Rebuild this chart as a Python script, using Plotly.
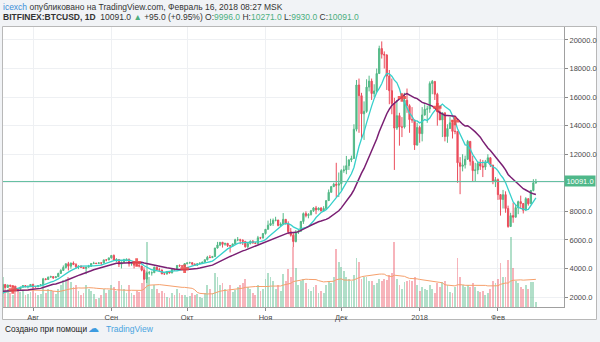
import numpy as np
import pandas as pd
import plotly.graph_objects as go

# ---------------- data (BITFINEX:BTCUSD, daily) ----------------
dates = pd.date_range("2017-07-01", "2018-02-16", freq="D")

opens = [
    2490,2430,2500,2570,2600,2610,2600,2500,2560,2510,2360,2330,2400,2360,2210,1980,1930,2230,2320,2270,2880,2670,2830,2760,2760,2570,2540,2690,2800,2720,2760,
    2880,2740,2710,2800,2860,3270,3230,3390,3430,3350,3420,3650,3860,4070,4330,4160,4380,4280,4120,4170,4080,4000,4090,4150,4340,4370,4350,4390,4380,4600,4590,
    4740,4910,4580,4630,4300,4420,4620,4650,4330,4340,4230,4220,4170,3880,3250,3690,3700,3700,4090,3910,3890,3620,3610,3790,3680,3930,3890,4210,4190,4160,
    4340,4390,4400,4310,4220,4330,4370,4440,4610,4780,4760,4830,5430,5640,5830,5690,5760,5600,5570,5720,6010,6010,5980,5900,5520,5740,5900,5780,5750,6150,6130,
    6450,6740,7030,7150,7370,7390,7010,7110,7440,7130,6570,6330,5880,6520,6600,7290,7840,7700,7780,8040,8240,8100,8230,8030,8200,8750,9330,9730,9900,9830,
    9930,10850,10900,11200,11600,11700,13750,16850,16100,14830,15000,16700,17120,16250,16430,17650,19400,19000,18950,17480,16450,15550,13830,14700,13900,13900,15780,15400,14420,14400,12640,
    13880,13440,14750,15150,15170,16950,17100,16200,14970,14400,14900,13240,13800,14200,13600,13600,11400,11150,11250,11650,12900,11500,10850,10900,11350,11170,11100,11450,11750,11240,10100,
    10220,9170,8830,9170,8200,6940,7700,7590,8260,8680,8550,8080,8890,8530,9460,9996,
]
highs = [
    2520,2520,2600,2650,2640,2630,2610,2570,2570,2530,2400,2420,2420,2380,2230,2060,2240,2380,2410,2900,2890,2870,2850,2790,2770,2620,2710,2840,2810,2780,2900,
    2930,2760,2820,2880,3340,3290,3430,3490,3440,3450,3700,3950,4210,4340,4460,4400,4490,4370,4190,4200,4100,4120,4250,4370,4470,4380,4420,4410,4620,4640,4760,
    4930,4980,4720,4640,4500,4680,4680,4680,4400,4360,4400,4370,4170,3930,3790,3820,3800,4120,4110,4050,3920,3760,3800,3800,3970,3990,4230,4280,4200,4370,
    4400,4470,4440,4350,4350,4420,4460,4620,4880,4930,4880,5440,5860,5850,5860,5780,5780,5600,5730,6080,6200,6080,6040,5910,5760,5970,5990,5860,6280,6210,6460,
    6750,7350,7480,7500,7620,7400,7230,7880,7440,7300,6830,6480,6690,6720,7330,7920,8000,7870,8100,8300,8380,8270,8290,8360,8780,9530,9780,10000,11400,10720,
    10950,11200,11880,11650,11900,14100,17200,17300,16300,15700,17250,17500,17300,16900,18000,19600,19900,19200,19000,17900,17300,15950,15800,14900,14600,16300,16600,15500,15300,14400,14200,
    14000,15300,15500,15400,17100,17200,17100,16300,15400,14900,14900,14100,14600,14400,14300,13600,11800,12000,11900,13000,12900,11900,11400,11500,11650,11600,11600,12000,11800,11250,10400,
    10300,9200,9500,9400,8400,7900,8600,8500,8750,9100,8560,8990,8900,9500,10250,10271,
]
lows = [
    2400,2380,2490,2560,2540,2580,2480,2480,2500,2320,2260,2270,2330,2180,1960,1840,1920,2200,2250,2260,2620,2660,2680,2720,2480,2450,2530,2680,2700,2600,2740,
    2620,2660,2700,2770,2850,3170,3200,3370,3260,3330,3420,3640,3850,3990,3860,3980,4230,3970,3950,4040,3980,3600,4080,4110,4330,4300,4330,4240,4370,4500,4590,
    4690,4560,4440,4100,4000,4410,4500,4130,4190,4000,4160,4070,3800,3240,2980,3560,3500,3700,3870,3870,3600,3560,3580,3650,3670,3870,3880,4110,4030,4150,
    4280,4370,4210,4190,4170,4310,4320,4420,4560,4730,4730,4820,5390,5560,5460,5590,5500,5120,5540,5650,5910,5700,5640,5460,5410,5680,5740,5700,5690,6050,6100,
    6370,6740,6970,6980,7300,6950,6970,7040,7080,6400,6230,5500,5830,6410,6600,7120,7580,7510,7700,7960,7800,8080,8000,8010,8180,8740,9320,9700,9000,9000,
    9450,10700,10600,10900,11450,11700,13600,13500,13100,13000,14900,16400,15800,16000,16330,17650,18700,18000,16500,15500,14800,10900,13700,12600,13200,13800,14900,13500,14200,12300,12600,
    12800,12900,14700,14200,14900,16200,15800,14000,14400,13200,12900,12800,13800,13100,13400,10000,9200,10800,11000,11600,11200,10100,10100,10600,10900,10400,10900,11400,11100,9900,9700,
    8800,7700,8200,7900,6850,6900,7200,7580,7800,8200,7850,8080,8400,8520,9400,9930,
]
closes = [
    2430,2500,2570,2600,2610,2600,2500,2560,2510,2360,2330,2400,2360,2210,1980,1930,2230,2320,2270,2880,2670,2830,2760,2760,2570,2540,2690,2800,2720,2760,2880,
    2740,2710,2800,2860,3270,3230,3390,3430,3350,3420,3650,3860,4070,4330,4160,4380,4280,4120,4170,4080,4000,4090,4150,4340,4370,4350,4390,4380,4600,4590,4740,
    4910,4580,4630,4300,4420,4620,4650,4330,4340,4230,4220,4170,3880,3250,3690,3700,3700,4090,3910,3890,3620,3610,3790,3680,3930,3890,4210,4190,4160,4340,
    4390,4400,4310,4220,4330,4370,4440,4610,4780,4760,4830,5430,5640,5830,5690,5760,5600,5570,5720,6010,6010,5980,5900,5520,5740,5900,5780,5750,6150,6130,6450,
    6740,7030,7150,7370,7390,7010,7110,7440,7130,6570,6330,5880,6520,6600,7290,7840,7700,7780,8040,8240,8100,8230,8030,8200,8750,9330,9730,9900,9830,9930,
    10850,10900,11200,11600,11700,13750,16850,16100,14830,15000,16700,17120,16250,16430,17650,19400,19000,18950,17480,16450,15550,13830,14700,13900,13900,15780,15400,14420,14400,12640,13880,
    13440,14750,15150,15170,16950,17100,16200,14970,14400,14900,13240,13800,14200,13600,13600,11400,11150,11250,11650,12900,11500,10850,10900,11350,11170,11100,11450,11750,11240,10100,10220,
    9170,8830,9170,8200,6940,7700,7590,8260,8680,8550,8080,8890,8530,9460,9996,10091,
]
volumes = [  # thousand BTC
    14,13,12,11,12,10,12,10,9,14,16,14,12,15,18,20,22,19,16,30,22,18,14,12,18,16,15,16,12,13,15,
    20,14,12,13,22,14,18,17,16,13,18,22,27,28,30,25,20,22,16,12,14,22,18,16,13,8,9,12,18,14,17,
    22,20,16,26,22,18,14,22,14,12,16,15,24,40,65,30,18,22,18,14,16,14,10,9,14,12,18,14,12,12,
    10,11,14,12,13,10,9,14,22,18,14,34,30,22,24,18,16,22,15,17,20,22,24,28,20,18,14,12,22,16,18,
    28,34,30,26,18,22,16,33,26,38,30,60,39,22,26,28,24,18,16,20,22,14,16,14,22,26,24,30,58,45,
    40,36,30,28,26,32,49,45,28,30,30,26,26,22,24,28,26,28,27,32,34,65,28,22,18,25,26,27,26,30,22,
    16,20,18,17,22,18,14,24,20,25,26,22,15,14,20,49,30,22,20,22,20,24,20,16,15,16,12,14,18,26,24,
    28,44,30,30,47,70,39,26,24,20,18,22,18,25,25,5,
]

price_ticks = [2000, 4000, 6000, 8000, 10000, 12000, 14000, 16000, 18000, 20000]
month_ticks = ["2017-08-01", "2017-09-01", "2017-10-01", "2017-11-01", "2017-12-01", "2018-01-01", "2018-02-01"]
month_labels = ["Авг", "Сен", "Окт", "Ноя", "Дек", "2018", "Фев"]
last_price = 10091.0

# ---------------- indicators ----------------
df = pd.DataFrame({"open": opens, "high": highs, "low": lows, "close": closes, "volume": volumes}, index=dates)
sma_short = df["close"].rolling(9, min_periods=1).mean()
sma_long = df["close"].rolling(21, min_periods=1).mean()
vol_ma = df["volume"].rolling(20, min_periods=1).mean()
diff = sma_short - sma_long
sgn = np.sign(diff)
is_cross = (sgn != sgn.shift(1)) & sgn.shift(1).notna() & (df.index >= "2017-07-21")
cross_x = df.index[is_cross]
cross_y = sma_short[is_cross]

# ---------------- layout helpers ----------------
W, H = 600, 342
L, R, T, B = 3, 564, 27, 307
def px(x):
    return (x - L) / (R - L)
def py(y):
    return (B - y) / (B - T)

GREEN = "#53b987"
RED = "#eb4d5c"
vol_colors = ["rgba(83,185,135,0.45)" if c >= o else "rgba(235,77,92,0.42)" for o, c in zip(df["open"], df["close"])]

fig = go.Figure()
fig.add_trace(go.Bar(x=df.index, y=df["volume"], marker=dict(color=vol_colors, line=dict(width=0)),
                     width=0.72 * 86400000, yaxis="y", hoverinfo="skip"))
fig.add_trace(go.Scatter(x=df.index, y=vol_ma, mode="lines", line=dict(color="#f6a06c", width=1),
                         yaxis="y", hoverinfo="skip"))
fig.add_trace(go.Candlestick(x=df.index, open=df["open"], high=df["high"], low=df["low"], close=df["close"],
                             increasing=dict(line=dict(color=GREEN, width=1), fillcolor=GREEN),
                             decreasing=dict(line=dict(color=RED, width=1), fillcolor=RED),
                             whiskerwidth=0, yaxis="y2", hoverinfo="skip"))
fig.add_trace(go.Scatter(x=df.index, y=sma_short, mode="lines", line=dict(color="#36d0cb", width=1.3),
                         yaxis="y2", hoverinfo="skip"))
fig.add_trace(go.Scatter(x=df.index, y=sma_long, mode="lines", line=dict(color="#7a1f73", width=1.5),
                         yaxis="y2", hoverinfo="skip"))
fig.add_trace(go.Scatter(x=cross_x, y=cross_y, mode="markers",
                         marker=dict(symbol="cross", size=7, color="rgba(240,70,70,0.85)", line=dict(width=0)),
                         yaxis="y2", hoverinfo="skip"))

tick_font = dict(family="Liberation Sans, Arial, sans-serif", size=7.5, color="#4a4a4a")
# the 10000 label is hidden behind the last-price label, as in the original
price_text = ["" if v == 10000 else f"{v:.1f}" for v in price_ticks]

fig.update_layout(
    width=W, height=H, showlegend=False,
    margin=dict(l=L, r=W - R, t=T, b=H - B),
    paper_bgcolor="#f1f3f6", plot_bgcolor="#ffffff",
    xaxis=dict(type="date", range=["2017-07-20 03:00", "2018-02-27 03:00"],
               tickvals=month_ticks, ticktext=month_labels, tickfont=tick_font,
               showgrid=True, gridcolor="#eef0f3", gridwidth=1,
               ticks="outside", ticklen=3, tickcolor="#8a8a8a",
               showline=True, linecolor="#a0a0a0", linewidth=1,
               rangeslider=dict(visible=False), zeroline=False, fixedrange=True),
    yaxis=dict(range=[0, 280], visible=False, fixedrange=True),
    yaxis2=dict(overlaying="y", side="right", range=[1300, 20910],
                tickvals=price_ticks, ticktext=price_text, tickfont=tick_font,
                showgrid=True, gridcolor="#eef0f3", gridwidth=1, zeroline=False,
                ticks="outside", ticklen=3, tickcolor="#8a8a8a",
                showline=True, linecolor="#a0a0a0", linewidth=1, fixedrange=True),
    bargap=0,
)

# chart frame
fig.add_shape(type="rect", xref="paper", yref="paper", x0=px(2.5), x1=px(596.5), y0=py(319.5), y1=py(26.5),
              fillcolor="#ffffff", line=dict(color="#b8b8b8", width=1), layer="below")
# last price line
fig.add_shape(type="line", xref="paper", yref="y2", x0=0, x1=1, y0=last_price, y1=last_price,
              line=dict(color="#62bfa0", width=1))
fig.add_annotation(xref="paper", yref="y2", x=1.0, y=last_price, xanchor="left", yanchor="middle",
                   text=f"{last_price:.1f}", showarrow=False, bgcolor="#4fb88a", width=30, height=10,
                   borderpad=0, font=dict(family="Liberation Sans, Arial, sans-serif", size=7.5, color="#ffffff"))

hdr_font = dict(family="Liberation Sans, Arial, sans-serif", size=8.5, color="#333333")
fig.add_annotation(xref="paper", yref="paper", x=px(1), y=py(6.5), xanchor="left", yanchor="middle",
                   showarrow=False, font=hdr_font,
                   text="<span style='color:#3d8fd6'>icexch</span> опубликовано на TradingView.com, Февраль 16, 2018 08:27 MSK")
g = "#4caf7f"
fig.add_annotation(xref="paper", yref="paper", x=px(1), y=py(17.5), xanchor="left", yanchor="middle",
                   showarrow=False, font=hdr_font,
                   text=(f"<b>BITFINEX:BTCUSD, 1D</b>  10091.0 <span style='color:{g}'>▲</span> +95.0 (+0.95%) "
                         f"O:<span style='color:{g}'>9996.0</span> H:<span style='color:{g}'>10271.0</span> "
                         f"L:<span style='color:{g}'>9930.0</span> C:<span style='color:{g}'>10091.0</span>"))
fig.add_annotation(xref="paper", yref="paper", x=px(3), y=py(328.5), xanchor="left", yanchor="middle",
                   showarrow=False, font=dict(family="Liberation Sans, Arial, sans-serif", size=8.3, color="#222222"),
                   text="Создано при помощи")
fig.add_annotation(xref="paper", yref="paper", x=px(86), y=py(328.5), xanchor="left", yanchor="middle",
                   showarrow=False, font=dict(family="DejaVu Sans, sans-serif", size=11, color="#3d9be0"),
                   text="☁")
fig.add_annotation(xref="paper", yref="paper", x=px(104), y=py(328.5), xanchor="left", yanchor="middle",
                   showarrow=False, font=dict(family="Liberation Sans, Arial, sans-serif", size=8.5, color="#49a3e0"),
                   text="TradingView")

fig.write_html("out.html", config={"displayModeBar": False})
